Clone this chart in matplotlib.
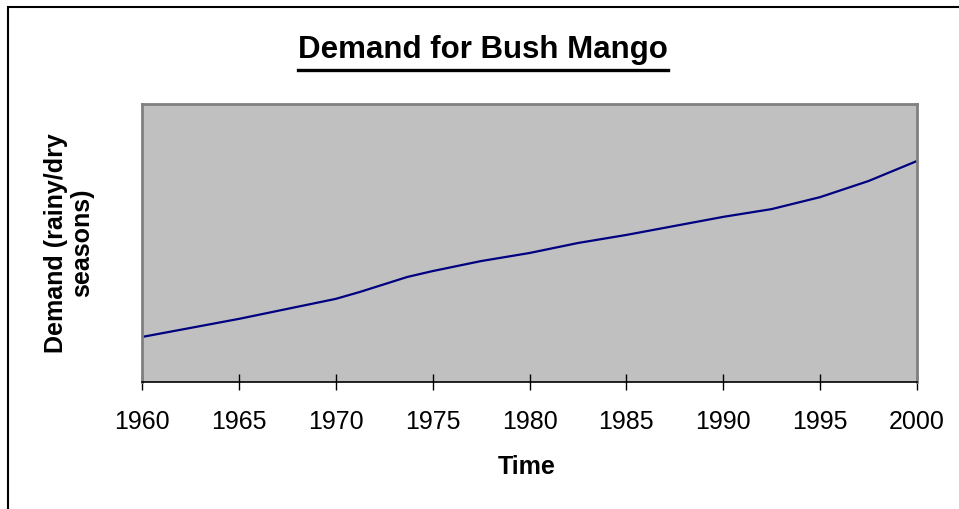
import matplotlib
matplotlib.use('Agg')
import matplotlib.pyplot as plt
from matplotlib.patches import Rectangle
from matplotlib.lines import Line2D

plt.rcParams['font.family'] = ['Liberation Sans', 'DejaVu Sans']

# data (demand in arbitrary units, 0-100 = plot height)
years = [1960, 1965, 1970, 1971.25, 1973.7, 1975, 1977.5, 1980, 1982.5,
         1985, 1990, 1992.5, 1995, 1997.5, 2000]
demand = [16.2, 22.7, 29.9, 32.4, 37.8, 39.9, 43.5, 46.4, 50.0,
          52.9, 59.4, 62.2, 66.5, 72.3, 79.5]
xticks = [1960, 1965, 1970, 1975, 1980, 1985, 1990, 1995, 2000]

W, H = 959, 510
fig = plt.figure(figsize=(W / 100, H / 100), dpi=100)

# outer chart border (only left/top visible in the crop)
fig.patches.append(Rectangle((8 / W, -0.1), 1.2, 1 - 8 / H + 0.1,
                             transform=fig.transFigure, fill=False,
                             edgecolor='black', linewidth=1.5))

ax = fig.add_axes([142 / W, 1 - 383 / H, 775 / W, 278 / H])
ax.set_facecolor('#C0C0C0')
ax.plot(years, demand, color='#000080', linewidth=1.6)

ax.set_xlim(1960, 2000)
ax.set_ylim(0, 100)
ax.set_xticks(xticks)
ax.set_xticklabels([str(t) for t in xticks], fontsize=18)
ax.tick_params(axis='x', direction='inout', length=11.5, width=1,
               color='black', pad=14)
ax.set_yticks([])

for s in ['left', 'top', 'right']:
    ax.spines[s].set_color('#808080')
    ax.spines[s].set_linewidth(2)
ax.spines['bottom'].set_color('black')
ax.spines['bottom'].set_linewidth(1.2)

fig.text(527 / W, 1 - 467 / H, 'Time', fontsize=18, fontweight='bold',
         ha='center', va='center')
fig.text(69 / W, 1 - 243 / H, 'Demand (rainy/dry\nseasons)', fontsize=18,
         fontweight='bold', rotation=90, ha='center', va='center',
         multialignment='center', linespacing=1.15)

title = fig.text(483 / W, 1 - 50 / H, 'Demand for Bush Mango', fontsize=22.5,
                 fontweight='bold', ha='center', va='center')

# underline the title
fig.canvas.draw()
bb = title.get_window_extent().transformed(fig.transFigure.inverted())
uy = 1 - 71 / H
fig.lines.append(Line2D([bb.x0, bb.x1], [uy, uy], transform=fig.transFigure,
                        color='black', linewidth=2.4))

fig.savefig('out.png', dpi=100)
